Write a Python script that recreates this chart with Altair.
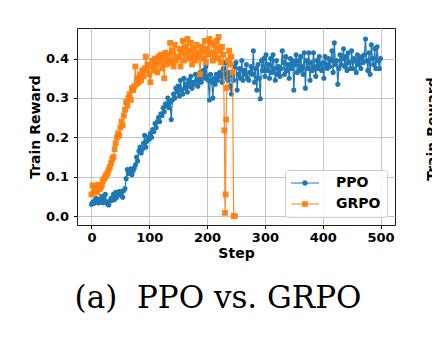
import altair as alt
import pandas as pd

# ---------------- data ----------------
series_names = ["PPO", "GRPO"]
series_colors = ["#1f77b4", "#ff7f0e"]
x_ticks = [0, 100, 200, 300, 400, 500]
y_ticks = [0.0, 0.1, 0.2, 0.3, 0.4]
caption = ["(a)\u00a0 PPO vs. GRPO"]
neighbor_title = ["Train Reward"]

ppo_steps = list(range(0, 501, 2))
ppo_reward = [
    0.030, 0.035, 0.032, 0.040, 0.045, 0.038, 0.033, 0.042, 0.036, 0.050, 0.034, 0.040, 0.055,
    0.036, 0.030, 0.028, 0.038, 0.045, 0.040, 0.055, 0.042, 0.060, 0.048, 0.058, 0.062,
    0.055, 0.062, 0.048, 0.065, 0.070, 0.095, 0.118, 0.108, 0.112, 0.120, 0.105, 0.115, 0.122,
    0.130, 0.150, 0.140, 0.165, 0.175, 0.160, 0.170, 0.185, 0.205, 0.175, 0.190, 0.200,
    0.195, 0.210, 0.200, 0.220, 0.215, 0.235, 0.225, 0.240, 0.250, 0.240, 0.260, 0.255, 0.275,
    0.265, 0.285, 0.280, 0.300, 0.275, 0.290, 0.245, 0.295, 0.310, 0.300, 0.325, 0.315,
    0.330, 0.305, 0.345, 0.320, 0.310, 0.350, 0.325, 0.335, 0.315, 0.345, 0.330, 0.355, 0.325,
    0.340, 0.335, 0.360, 0.345, 0.330, 0.350, 0.365, 0.340, 0.355, 0.370, 0.350, 0.380,
    0.355, 0.345, 0.295, 0.360, 0.340, 0.300, 0.350, 0.335, 0.360, 0.345, 0.355, 0.365, 0.355,
    0.340, 0.375, 0.360, 0.390, 0.350, 0.345, 0.365, 0.330, 0.310, 0.355, 0.345, 0.380,
    0.390, 0.320, 0.360, 0.375, 0.350, 0.395, 0.345, 0.370, 0.360, 0.385, 0.350, 0.345, 0.365,
    0.380, 0.360, 0.420, 0.340, 0.375, 0.320, 0.385, 0.350, 0.298, 0.395, 0.370, 0.400,
    0.355, 0.410, 0.370, 0.385, 0.350, 0.400, 0.365, 0.410, 0.375, 0.345, 0.395, 0.360, 0.380,
    0.355, 0.375, 0.420, 0.390, 0.360, 0.405, 0.370, 0.385, 0.350, 0.400, 0.375, 0.395,
    0.320, 0.385, 0.410, 0.365, 0.395, 0.370, 0.405, 0.380, 0.360, 0.415, 0.325, 0.395, 0.375,
    0.415, 0.345, 0.390, 0.370, 0.415, 0.380, 0.355, 0.395, 0.375, 0.405, 0.385, 0.370,
    0.390, 0.350, 0.405, 0.385, 0.375, 0.400, 0.380, 0.395, 0.420, 0.365, 0.440, 0.385, 0.395,
    0.335, 0.375, 0.410, 0.385, 0.400, 0.425, 0.380, 0.405, 0.370, 0.415, 0.390, 0.375,
    0.420, 0.375, 0.400, 0.395, 0.365, 0.410, 0.385, 0.400, 0.375, 0.405, 0.390, 0.410, 0.450,
    0.395, 0.370, 0.415, 0.360, 0.435, 0.400, 0.385, 0.425, 0.375, 0.430, 0.395, 0.375,
    0.400,
]

grpo_steps = list(range(0, 229, 2)) + [230, 231, 232, 233, 234, 236, 238, 240, 242, 244, 246, 248]
grpo_reward = [
    0.055, 0.078, 0.060, 0.065, 0.075, 0.060, 0.080, 0.068, 0.072, 0.078, 0.090, 0.095, 0.100,
    0.105, 0.110, 0.118, 0.125, 0.135, 0.145, 0.150, 0.170, 0.185, 0.200, 0.210, 0.205,
    0.225, 0.240, 0.230, 0.255, 0.270, 0.290, 0.280, 0.300, 0.310, 0.295, 0.325, 0.320, 0.330,
    0.380, 0.335, 0.350, 0.340, 0.360, 0.345, 0.370, 0.355, 0.375, 0.405, 0.370, 0.385,
    0.360, 0.340, 0.380, 0.395, 0.370, 0.400, 0.385, 0.365, 0.405, 0.390, 0.410, 0.375, 0.400,
    0.350, 0.415, 0.385, 0.410, 0.395, 0.440, 0.390, 0.420, 0.380, 0.435, 0.395, 0.405,
    0.405, 0.425, 0.380, 0.415, 0.445, 0.395, 0.430, 0.410, 0.450, 0.420, 0.400, 0.440, 0.385,
    0.425, 0.410, 0.395, 0.435, 0.405, 0.415, 0.360, 0.430, 0.420, 0.400, 0.445, 0.390,
    0.425, 0.410, 0.450, 0.440, 0.415, 0.395, 0.435, 0.410, 0.445, 0.400, 0.455, 0.420, 0.390,
    0.430, 0.410,
    0.218, 0.008, 0.055, 0.245, 0.325, 0.395, 0.420, 0.385, 0.405, 0.365, 0.000, 0.000,
]

# ---------------- frames ----------------
ppo_df = pd.DataFrame({"step": ppo_steps, "reward": ppo_reward, "series": series_names[0]})
grpo_df = pd.DataFrame({"step": grpo_steps, "reward": grpo_reward, "series": series_names[1]})
all_df = pd.concat([ppo_df, grpo_df], ignore_index=True)

FONT = "DejaVu Sans"

x_enc = alt.X(
    "step:Q",
    scale=alt.Scale(domain=[-25, 525], nice=False, zero=False),
    axis=alt.Axis(values=x_ticks, title="Step", labelPadding=2.5, titlePadding=2),
)
y_enc = alt.Y(
    "reward:Q",
    scale=alt.Scale(domain=[-0.0228, 0.4778], nice=False, zero=False),
    axis=alt.Axis(values=y_ticks, format=".1f", title="Train Reward", labelPadding=5, titlePadding=3),
)

ppo_line = alt.Chart(ppo_df).mark_line(color=series_colors[0], strokeWidth=1.2).encode(x=x_enc, y=y_enc)
ppo_pts = alt.Chart(ppo_df).mark_point(
    filled=True, color=series_colors[0], size=26, shape="circle", opacity=1
).encode(x=x_enc, y=y_enc)
grpo_line = alt.Chart(grpo_df).mark_line(color=series_colors[1], strokeWidth=1.2, opacity=0.9).encode(x=x_enc, y=y_enc)
grpo_pts = alt.Chart(grpo_df).mark_point(
    filled=True, color=series_colors[1], size=34, shape="square", opacity=0.95
).encode(x=x_enc, y=y_enc)

# legend symbols: a line segment with the marker in the middle
ppo_sym = "M-2,-0.08H2V0.08H-2Z M0.4,0A0.4,0.4 0 1,1 -0.4,0A0.4,0.4 0 1,1 0.4,0Z"
grpo_sym = "M-2,-0.08H2V0.08H-2Z M-0.4,-0.4H0.4V0.4H-0.4Z"

legend_props = dict(
    title=None,
    orient="bottom-right",
    offset=8,
    symbolSize=196,
    symbolOffset=7,
    symbolStrokeWidth=0,
    symbolOpacity=1,
    labelOffset=24,
    labelFont=FONT,
    labelFontSize=14,
    labelFontWeight="bold",
    labelColor="black",
    rowPadding=7,
    padding=6,
    fillColor="rgba(255,255,255,0.85)",
    strokeColor="#cccccc",
    cornerRadius=3,
)

legend_layer = alt.Chart(all_df).mark_point(filled=True, opacity=0).encode(
    x=x_enc,
    y=y_enc,
    color=alt.Color(
        "series:N",
        scale=alt.Scale(domain=series_names, range=series_colors),
        legend=alt.Legend(**legend_props),
    ),
    shape=alt.Shape(
        "series:N",
        scale=alt.Scale(domain=series_names, range=[ppo_sym, grpo_sym]),
        legend=alt.Legend(**legend_props),
    ),
)

neighbor = alt.Chart(pd.DataFrame({"label": neighbor_title})).mark_text(
    angle=270, font=FONT, fontSize=14, fontWeight="bold", color="black",
    align="center", baseline="alphabetic",
).encode(text="label:N", x=alt.value(360), y=alt.value(101))

chart = alt.layer(ppo_line, ppo_pts, grpo_line, grpo_pts, legend_layer, neighbor).properties(
    width=318,
    height=197,
    background="white",
    autosize=alt.AutoSizeParams(type="none"),
    padding={"left": 77, "top": 28, "right": 37, "bottom": 117},
    title=alt.TitleParams(
        text=caption[0],
        orient="bottom",
        font="DejaVu Serif",
        fontSize=31,
        fontWeight="normal",
        color="black",
        anchor="middle",
        dx=-18,
        offset=24,
    ),
).configure_axis(
    labelFont=FONT,
    labelFontWeight="bold",
    labelFontSize=13,
    labelColor="black",
    titleFont=FONT,
    titleFontWeight="bold",
    titleFontSize=14,
    titleColor="black",
    tickColor="black",
    tickSize=3.5,
    tickWidth=1,
    gridColor="#c4c4c4",
    gridWidth=1,
    domain=False,
).configure_view(
    stroke="#1a1a1a",
    strokeWidth=1,
)

chart.save("out.html", embed_options={"renderer": "svg", "actions": False})
